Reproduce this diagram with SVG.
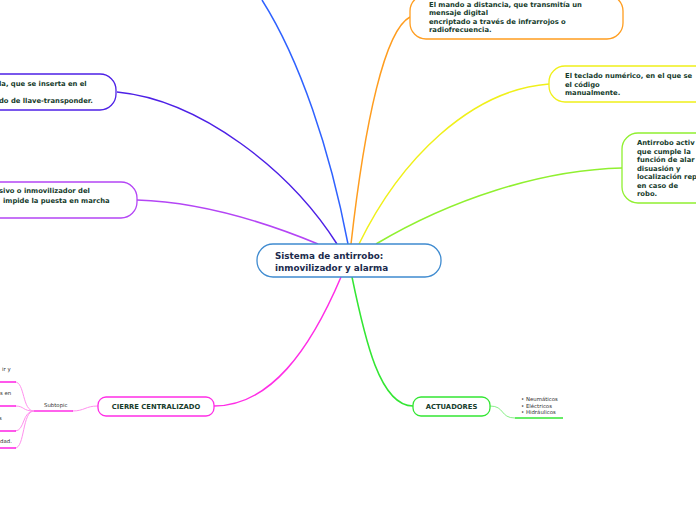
<svg xmlns="http://www.w3.org/2000/svg" width="696" height="520" viewBox="0 0 696 520">
<style>
.t{font-family:"DejaVu Sans",Verdana,sans-serif;font-weight:bold;font-size:6.8px;fill:#163c2c}
.c{font-family:"DejaVu Sans",Verdana,sans-serif;font-weight:bold;font-size:8.8px;fill:#1b2b4d}
.s{font-family:"DejaVu Sans",Verdana,sans-serif;font-size:5.4px;fill:#333}
.n{fill:#fff;stroke-width:1.3}
.e{fill:none;stroke-width:1.5}
.sub{fill:none;stroke-width:1}
</style>
<rect width="696" height="520" fill="#fff"/>
<g id="connectors">
<path class="e" stroke="#2f62ff" d="M348,244 C330,150 300,60 262,0"/>
<path class="e" stroke="#4d20e6" d="M337,244 C290,170 200,100 117,92"/>
<path class="e" stroke="#b445f5" d="M318,244 C260,220 200,202 137,200"/>
<path class="e" stroke="#ff9d1f" d="M351,244 C365,120 385,30 410,17"/>
<path class="e" stroke="#f0f01a" d="M359,244 C400,160 470,90 549,84"/>
<path class="e" stroke="#90f030" d="M376,244 C450,200 540,170 622,168"/>
<path class="e" stroke="#ff2ee6" d="M341,277 C310,350 270,406 214,406"/>
<path class="e" stroke="#33e633" d="M352,277 C365,340 380,406 413,406"/>
<path class="sub" stroke="#88f088" d="M490,406 C505,406 500,418 515,418"/>
<path class="sub" stroke="#ff90ee" d="M98,406 C85,406 85,411 72,411"/>
<path class="sub" stroke="#ff90ee" d="M34,411 C22,411 25,382 15,382"/>
<path class="sub" stroke="#ff90ee" d="M34,411 C22,411 25,406 15,406"/>
<path class="sub" stroke="#ff90ee" d="M34,411 C22,411 25,431 15,431"/>
<path class="sub" stroke="#ff90ee" d="M34,411 C22,411 25,448 15,448"/>
</g>
<g id="central">
<rect class="n" x="257" y="244" width="184" height="33" rx="16" stroke="#3f8bd0"/>
<text class="c" x="275" y="259">Sistema de antirrobo:</text>
<text class="c" x="275" y="271">inmovilizador y alarma</text>
</g>
<g id="llave">
<rect class="n" x="-40" y="74" width="156" height="36" rx="16" stroke="#4d20e6"/>
<text class="t" x="-1" y="86">la, que se inserta en el</text>
<text class="t" x="-1" y="103">do de llave-transponder.</text>
</g>
<g id="pasivo">
<rect class="n" x="-40" y="182" width="177" height="36" rx="16" stroke="#b445f5"/>
<text class="t" x="-1" y="193">sivo o inmovilizador del</text>
<text class="t" x="3" y="203">impide la puesta en marcha</text>
</g>
<g id="mando">
<rect class="n" x="410" y="-5" width="213" height="44" rx="16" stroke="#ff9d1f"/>
<text class="t" x="429" y="7">El mando a distancia, que transmitía un</text>
<text class="t" x="429" y="15">mensaje digital</text>
<text class="t" x="429" y="24">encriptado a través de infrarrojos o</text>
<text class="t" x="429" y="32">radiofrecuencia.</text>
</g>
<g id="teclado">
<rect class="n" x="549" y="66" width="170" height="36" rx="16" stroke="#f0f01a"/>
<text class="t" x="565" y="78">El teclado numérico, en el que se</text>
<text class="t" x="565" y="87">el código</text>
<text class="t" x="565" y="95">manualmente.</text>
</g>
<g id="activo">
<rect class="n" x="622" y="133" width="100" height="70" rx="16" stroke="#90f030"/>
<text class="t" x="637" y="145">Antirrobo activ</text>
<text class="t" x="637" y="154">que cumple la</text>
<text class="t" x="637" y="162">función de alar</text>
<text class="t" x="637" y="171">disuasión y</text>
<text class="t" x="637" y="179">localización rep</text>
<text class="t" x="637" y="188">en caso de</text>
<text class="t" x="637" y="196">robo.</text>
</g>
<g id="cierre">
<rect class="n" x="98" y="397" width="116" height="19" rx="8" stroke="#ff2ee6"/>
<text class="t" x="156" y="409" text-anchor="middle">CIERRE CENTRALIZADO</text>
</g>
<g id="actuadores">
<rect class="n" x="413" y="397" width="77" height="19" rx="8" stroke="#33e633"/>
<text class="t" x="451.5" y="409" text-anchor="middle">ACTUADORES</text>
</g>
<g id="actuadores-sub">
<line x1="515" y1="418" x2="563" y2="418" stroke="#33e633" stroke-width="1.6"/>
<text class="s" x="521" y="401">• Neumáticos</text>
<text class="s" x="521" y="407.5">• Eléctricos</text>
<text class="s" x="521" y="414">• Hidráulicos</text>
</g>
<g id="subtopic">
<line x1="34" y1="411" x2="73" y2="411" stroke="#ff2ee6" stroke-width="1.6"/>
<text class="s" x="44" y="407">Subtopic</text>
</g>
<g id="sub1">
<line x1="0" y1="382" x2="16" y2="382" stroke="#ff2ee6" stroke-width="1.6"/>
<text class="s" x="2" y="371">ir y</text>
</g>
<g id="sub2">
<line x1="0" y1="406" x2="16" y2="406" stroke="#ff2ee6" stroke-width="1.6"/>
<text class="s" x="0" y="395">s en</text>
</g>
<g id="sub3">
<line x1="0" y1="431" x2="16" y2="431" stroke="#ff2ee6" stroke-width="1.6"/>
<text class="s" x="-1" y="420">s</text>
</g>
<g id="sub4">
<line x1="0" y1="448" x2="16" y2="448" stroke="#ff2ee6" stroke-width="1.6"/>
<text class="s" x="0" y="443">dad.</text>
</g>
</svg>
